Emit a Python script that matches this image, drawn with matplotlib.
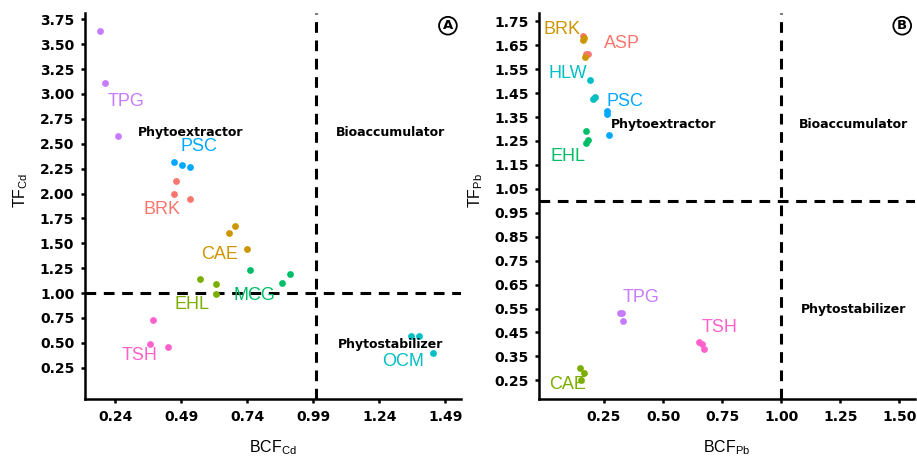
import numpy as np
import matplotlib
matplotlib.use("Agg")
import matplotlib.pyplot as plt

plt.rcParams['font.family'] = ['Liberation Sans', 'DejaVu Sans']
plt.rcParams['mathtext.fontset'] = 'custom'
plt.rcParams['mathtext.rm'] = 'Liberation Sans'

# ggplot hue palette (8 groups)
palette = ["#F8766D", "#CD9600", "#7CAE00", "#00BE67",
           "#00BFC4", "#00A9FF", "#C77CFF", "#FF61CC"]

# ---- panel A : Cd ----
cd_species = ["BRK", "CAE", "EHL", "MCG", "OCM", "PSC", "TPG", "TSH"]
cd_bcf = [[0.472, 0.461, 0.523],
          [0.692, 0.671, 0.741],
          [0.562, 0.622, 0.622],
          [0.751, 0.870, 0.902],
          [1.361, 1.391, 1.442],
          [0.461, 0.492, 0.523],
          [0.181, 0.202, 0.251],
          [0.383, 0.372, 0.442]]
cd_tf = [[2.13, 2.00, 1.94],
         [1.675, 1.60, 1.44],
         [1.14, 1.09, 0.99],
         [1.23, 1.10, 1.19],
         [0.567, 0.567, 0.397],
         [2.317, 2.287, 2.267],
         [3.63, 3.11, 2.58],
         [0.731, 0.487, 0.46]]
cd_label_x = [0.417, 0.634, 0.532, 0.766, 1.329, 0.558, 0.28, 0.331]
cd_label_y = [1.84, 1.39, 0.88, 0.977, 0.316, 2.47, 2.92, 0.37]
cd_xticks = [0.24, 0.49, 0.74, 0.99, 1.24, 1.49]
cd_yticks = [0.25, 0.50, 0.75, 1.00, 1.25, 1.50, 1.75, 2.00,
             2.25, 2.50, 2.75, 3.00, 3.25, 3.50, 3.75]

# ---- panel B : Pb ----
pb_species = ["ASP", "BRK", "CAE", "EHL", "HLW", "PSC", "TPG", "TSH"]
pb_bcf = [[0.162, 0.173, 0.184],
          [0.162, 0.170, 0.165],
          [0.148, 0.164, 0.151],
          [0.172, 0.181, 0.172],
          [0.191, 0.202, 0.213],
          [0.261, 0.263, 0.271],
          [0.318, 0.326, 0.332],
          [0.652, 0.663, 0.672]]
pb_tf = [[1.687, 1.612, 1.615],
         [1.672, 1.600, 1.680],
         [0.300, 0.279, 0.251],
         [1.293, 1.254, 1.243],
         [1.505, 1.424, 1.435],
         [1.377, 1.363, 1.274],
         [0.530, 0.530, 0.499],
         [0.409, 0.400, 0.381]]
pb_label_x = [0.326, 0.071, 0.095, 0.099, 0.095, 0.34, 0.405, 0.738]
pb_label_y = [1.658, 1.717, 0.234, 1.184, 1.53, 1.414, 0.597, 0.471]
pb_xticks = [0.25, 0.50, 0.75, 1.00, 1.25, 1.50]
pb_yticks = [0.25, 0.35, 0.45, 0.55, 0.65, 0.75, 0.85, 0.95,
             1.05, 1.15, 1.25, 1.35, 1.45, 1.55, 1.65, 1.75]


def style_axes(ax):
    for s in ["top", "right"]:
        ax.spines[s].set_visible(False)
    for s in ["left", "bottom"]:
        ax.spines[s].set_linewidth(1.8)
    ax.tick_params(width=1.8, length=3.2, pad=4.5)
    for lab in ax.get_xticklabels() + ax.get_yticklabels():
        lab.set_fontfamily('DejaVu Sans')
        lab.set_fontweight('bold')
        lab.set_fontsize(10)


def panel(ax, species, bcf, tf, lx, ly, xticks, xfmt, yticks, yfmt,
          xlim, ylim, quads, letter, xlabel, ylabel):
    for i, sp in enumerate(species):
        ax.scatter(bcf[i], tf[i], s=24, color=palette[i], lw=0, zorder=3)
        ax.text(lx[i], ly[i], sp, color=palette[i], fontsize=13,
                ha='center', va='center', zorder=4)
    ax.axhline(1.0, color='black', lw=2.2, dashes=(3.5, 2.5), zorder=2)
    ax.axvline(1.0, color='black', lw=2.2, dashes=(3.5, 2.5), zorder=2)
    ax.set_xlim(xlim)
    ax.set_ylim(ylim)
    ax.set_xticks(xticks)
    ax.set_xticklabels([xfmt % v for v in xticks])
    ax.set_yticks(yticks)
    ax.set_yticklabels([yfmt % v for v in yticks])
    for (qx, qy, qt) in quads:
        ax.text(qx, qy, qt, fontsize=9, fontweight='bold',
                family='DejaVu Sans', ha='center', va='center', zorder=5)
    ax.text(0.966, 0.968, letter, transform=ax.transAxes, fontsize=9.5,
            fontweight='bold', family='DejaVu Sans', ha='center', va='center',
            bbox=dict(boxstyle='circle,pad=0.18', fc='white', ec='black', lw=1.3))
    ax.text(0.5, -0.137, xlabel, transform=ax.transAxes, fontsize=11.5,
            ha='center', va='baseline')
    ax.text(-0.17, 0.54, ylabel, transform=ax.transAxes, fontsize=11.5,
            ha='center', va='center', rotation=90)
    style_axes(ax)


fig = plt.figure(figsize=(9.17, 4.58), dpi=100)
axA = fig.add_axes([0.0927, 0.1288, 0.4097, 0.842])
axB = fig.add_axes([0.5881, 0.1288, 0.4097, 0.842])

panel(axA, cd_species, cd_bcf, cd_tf, cd_label_x, cd_label_y,
      cd_xticks, "%.2f", cd_yticks, "%.2f",
      (0.126, 1.548), (-0.065, 3.81),
      [(0.525, 2.61, "Phytoextractor"), (1.281, 2.61, "Bioaccumulator"),
       (1.281, 0.487, "Phytostabilizer")],
      "A", r"BCF$_{\mathrm{Cd}}$", r"TF$_{\mathrm{Cd}}$")

panel(axB, pb_species, pb_bcf, pb_tf, pb_label_x, pb_label_y,
      pb_xticks, "%.2f", pb_yticks, "%.2f",
      (-0.024, 1.566), (0.172, 1.783),
      [(0.501, 1.32, "Phytoextractor"), (1.304, 1.32, "Bioaccumulator"),
       (1.305, 0.547, "Phytostabilizer")],
      "B", r"BCF$_{\mathrm{Pb}}$", r"TF$_{\mathrm{Pb}}$")

fig.savefig("out.png", dpi=100)
